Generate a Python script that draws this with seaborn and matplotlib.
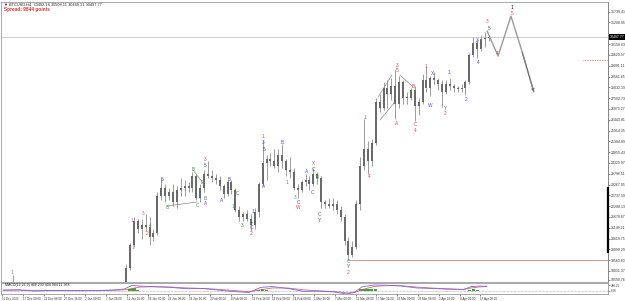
import matplotlib
matplotlib.use("Agg")
import matplotlib.pyplot as plt
import matplotlib.transforms as mtransforms
import numpy as np
import pandas as pd
import seaborn as sns

# ---------------- data ----------------
symbol_header = "\u25BC BTCUSD,H4  30492.16 30508.11 30469.31 30497.77"
spread_text = "Spread: 9844 points"
macd_header = "MACD(12,26,9) 468.230 404.984 11.368"
last_price = 30497.77

candle_dates = ["2022-12-14"] + [d.strftime("%Y-%m-%d") for d in pd.date_range("2023-01-12", "2023-04-15")]
opens = [17800,
    18300, 19200, 20300, 21500, 21100, 21300, 21200, 20700, 20900, 22700,
    23100, 22700, 22900, 22400, 23000, 23100, 23200, 23100, 23700, 22600,
    23100, 23800, 23700, 23600, 23500, 23200, 22800, 23400, 23000, 22000,
    21700, 21800, 21600, 21300, 21900, 23300, 24300, 24500, 24400, 24200,
    24700, 24400, 24000, 23900, 23100, 23000, 23400, 23500, 23300, 23800,
    23600, 22400, 22300, 22200, 22300, 22000, 21700, 20500, 19800, 20200,
    22300, 24200, 25000, 24400, 25300, 27300, 27000, 28000, 27700, 28100,
    27200, 28300, 27500, 27500, 27900, 27100, 27300, 28400, 28000, 28500,
    28400, 28200, 27800, 28200, 28100, 28000, 27950, 28000, 28300, 29600,
    30200, 29900, 30400, 30450]
highs = [18850,
    19350, 20400, 21700, 21600, 21600, 21800, 21700, 21100, 22900, 23600,
    23300, 23100, 23300, 23200, 23600, 23500, 23400, 23900, 23800, 23300,
    24000, 24400, 24000, 23800, 23700, 23300, 23500, 23500, 23100, 22200,
    21900, 22000, 21800, 22100, 23400, 25450, 24700, 24800, 25000, 25000,
    25250, 24500, 24600, 24100, 23300, 23500, 23800, 23700, 24100, 23900,
    23700, 22500, 22600, 22600, 22500, 22200, 21800, 20700, 20500, 22500,
    24600, 26500, 25400, 25500, 27500, 27700, 28300, 28400, 28500, 28900,
    28600, 28400, 27800, 28000, 28100, 27500, 28700, 29100, 28600, 28800,
    28500, 28400, 28400, 28500, 28200, 28100, 28200, 28400, 29700, 30500,
    30400, 30600, 30750, 30600]
lows = [17600,
    18200, 19100, 20200, 20900, 20600, 21000, 20300, 20500, 20800, 22500,
    22400, 22500, 22200, 22100, 22700, 22700, 22900, 22900, 22500, 22400,
    22900, 23600, 23400, 23300, 23000, 22600, 22700, 22800, 21900, 21500,
    21500, 21500, 21000, 21100, 21700, 23200, 23500, 24200, 24100, 23900,
    24100, 23700, 23600, 23000, 22600, 22900, 23200, 23000, 23200, 23300,
    22100, 22100, 22100, 22000, 21800, 21500, 20300, 19550, 19700, 20100,
    22000, 24000, 23800, 24200, 25200, 26800, 26900, 27000, 27400, 26500,
    27000, 27200, 27200, 27400, 26400, 26700, 27200, 27800, 27600, 28200,
    27900, 27050, 27700, 27900, 27800, 27800, 27800, 27650, 28200, 29500,
    29450, 29800, 30000, 30300]
closes = [17900,
    19200, 20300, 21500, 21100, 21300, 21200, 20700, 20900, 22700, 23100,
    22700, 22900, 22400, 23000, 23100, 23200, 23100, 23700, 22600, 23100,
    23800, 23700, 23600, 23500, 23200, 22800, 23400, 23000, 22000, 21700,
    21800, 21600, 21300, 21900, 23300, 24300, 24500, 24400, 24200, 24700,
    24400, 24000, 23900, 23100, 23000, 23400, 23500, 23300, 23800, 23600,
    22400, 22300, 22200, 22300, 22000, 21700, 20500, 19800, 20200, 22300,
    24200, 25000, 24400, 25300, 27300, 27000, 28000, 27700, 28100, 27200,
    28300, 27500, 27500, 27900, 27100, 27300, 28400, 28000, 28500, 28400,
    28200, 27800, 28200, 28100, 28000, 27950, 28000, 28300, 29600, 30200,
    29900, 30400, 30450, 30498]

# Elliott-wave style labels: (time, price, text, colour-name)
wave_labels = [
    ("2022-12-14 05:00", 18934, "1", "pink"),
    ("2023-01-14 00:00", 21482, "1", "pink"),
    ("2023-01-14 06:00", 20159, "1", "pink"),
    ("2023-01-16 19:00", 21825, "3", "pink"),
    ("2023-01-17 21:00", 20845, "2", "red"),
    ("2023-01-18 15:00", 21237, "4", "green"),
    ("2023-01-21 16:00", 23491, "5", "blue"),
    ("2023-01-23 00:00", 22119, "B", "green"),
    ("2023-01-29 15:00", 23981, "B", "green"),
    ("2023-01-31 23:00", 23344, "D", "green"),
    ("2023-01-30 16:00", 22217, "C", "green"),
    ("2023-02-01 17:00", 24471, "3", "red"),
    ("2023-02-01 17:00", 24177, "5", "blue"),
    ("2023-02-01 17:00", 22560, "B", "green"),
    ("2023-02-01 23:00", 22315, "A", "blue"),
    ("2023-02-06 02:00", 22462, "A", "blue"),
    ("2023-02-07 21:00", 23491, "B", "blue"),
    ("2023-02-08 21:00", 22168, "1", "green"),
    ("2023-02-09 22:00", 22805, "C", "green"),
    ("2023-02-11 05:00", 21237, "3", "green"),
    ("2023-02-13 12:00", 21384, "5", "green"),
    ("2023-02-13 12:00", 21139, "C", "blue"),
    ("2023-02-13 12:00", 20845, "2", "red"),
    ("2023-02-14 00:00", 21923, "1", "blue"),
    ("2023-02-16 14:00", 25598, "1", "red"),
    ("2023-02-16 14:00", 25304, "3", "blue"),
    ("2023-02-16 20:00", 24961, "5", "blue"),
    ("2023-02-16 20:00", 23148, "A", "blue"),
    ("2023-02-21 12:00", 25304, "B", "blue"),
    ("2023-02-22 19:00", 23344, "1", "green"),
    ("2023-02-24 19:00", 22609, "3", "green"),
    ("2023-02-25 14:00", 22364, "C", "blue"),
    ("2023-02-25 14:00", 22119, "W", "red"),
    ("2023-02-27 21:00", 23883, "A", "blue"),
    ("2023-03-01 10:00", 24275, "X", "red"),
    ("2023-03-01 10:00", 23981, "C", "blue"),
    ("2023-03-01 04:00", 22854, "C", "blue"),
    ("2023-03-02 12:00", 23589, "B", "green"),
    ("2023-03-03 00:00", 21776, "C", "green"),
    ("2023-03-03 00:00", 21482, "Y", "blue"),
    ("2023-03-10 09:00", 19473, "C", "green"),
    ("2023-03-10 09:00", 19228, "Y", "blue"),
    ("2023-03-10 09:00", 18934, "2", "red"),
    ("2023-03-14 19:00", 26529, "1", "red"),
    ("2023-03-15 19:00", 23638, "4", "red"),
    ("2023-03-22 23:00", 29077, "3", "red"),
    ("2023-03-22 23:00", 28832, "5", "red"),
    ("2023-03-22 23:00", 26235, "A", "red"),
    ("2023-03-27 02:00", 28048, "B", "red"),
    ("2023-03-27 14:00", 26186, "C", "red"),
    ("2023-03-27 14:00", 25892, "4", "red"),
    ("2023-03-30 10:00", 29028, "1", "red"),
    ("2023-04-01 04:00", 28685, "X", "blue"),
    ("2023-03-31 10:00", 27117, "W", "blue"),
    ("2023-04-05 07:00", 28734, "1", "blue"),
    ("2023-04-04 07:00", 26970, "Y", "blue"),
    ("2023-04-04 07:00", 26725, "2", "red"),
    ("2023-04-09 16:00", 27411, "2", "blue"),
    ("2023-04-12 11:00", 30302, "3", "blue"),
    ("2023-04-12 17:00", 29224, "4", "blue"),
    ("2023-04-15 12:00", 30890, "5", "blue"),
    ("2023-04-15 00:00", 31233, "3", "red"),
    ("2023-04-17 14:00", 29665, "4", "red"),
    ("2023-04-21 10:00", 31919, "1", "black"),
    ("2023-04-21 10:00", 31625, "5", "red"),
]

# thin trend / wedge lines: (t0, p0, t1, p1)
trend_lines = [
    ("2023-03-18 02:00", 27558, "2023-03-21 16:00", 28636),
    ("2023-03-18 14:00", 26431, "2023-03-22 10:00", 27313),
    ("2023-03-23 17:00", 28636, "2023-03-27 02:00", 28048),
    ("2023-01-23 00:00", 22217, "2023-01-30 16:00", 22413),
    ("2023-01-29 15:00", 23981, "2023-02-01 05:00", 23344),
]

# projected path
proj_times = ["2023-04-15 01:00", "2023-04-17 21:00", "2023-04-21 04:00",
              "2023-04-24 01:00", "2023-04-27 01:00"]
proj_prices = [30792, 29567, 31527, 29763, 27803]

low_line_start = "2023-03-10 12:00"
low_line_price = 19571
dotted_level = 29372
axis_marker = (19914, 23148)

# price-axis tick labels
y_ticks = [31738.41, 31208.95, 30150.03, 29620.57, 29091.11, 28561.65,
           28032.19, 27502.73, 26973.27, 26443.81, 25914.35, 25384.89,
           24855.43, 24325.97, 23796.51, 23267.05, 22737.59, 22208.13,
           21678.67, 21149.21, 20619.75, 20090.29, 19560.83, 19031.37,
           18590.76]

# time-axis tick labels
x_tick_times = ["2022-12-11 16:00", "2022-12-17 00:00", "2022-12-22 08:00",
    "2022-12-27 16:00", "2023-01-02 00:00", "2023-01-07 08:00",
    "2023-01-12 16:00", "2023-01-18 00:00", "2023-01-23 08:00",
    "2023-01-28 16:00", "2023-02-03 00:00", "2023-02-08 08:00",
    "2023-02-13 16:00", "2023-02-19 00:00", "2023-02-24 08:00",
    "2023-03-01 16:00", "2023-03-07 00:00", "2023-03-12 08:00",
    "2023-03-17 16:00", "2023-03-23 00:00", "2023-03-28 08:00",
    "2023-04-02 16:00", "2023-04-08 00:00", "2023-04-13 08:00"]

# indicator panel
macd_dates = ["2022-12-12", "2022-12-16", "2022-12-20", "2022-12-24", "2022-12-28",
    "2023-01-01", "2023-01-05", "2023-01-09", "2023-01-12", "2023-01-14",
    "2023-01-16", "2023-01-20", "2023-01-24", "2023-01-28", "2023-02-01",
    "2023-02-05", "2023-02-09", "2023-02-13", "2023-02-16", "2023-02-19",
    "2023-02-23", "2023-02-27", "2023-03-03", "2023-03-07", "2023-03-10",
    "2023-03-12", "2023-03-14", "2023-03-17", "2023-03-20", "2023-03-24",
    "2023-03-28", "2023-04-01", "2023-04-05", "2023-04-09", "2023-04-11",
    "2023-04-13", "2023-04-15"]
macd_main = [60, 80, -30, 20, 10, 0, 20, 60, 150, 480, 420, 350, 300, 180, 200,
    60, -80, -160, 300, 380, 200, -60, -40, -120, -300, -150, 350, 520, 500,
    430, 250, 200, 140, 100, 380, 420, 400]
macd_signal = [40, 50, 30, 25, 20, 15, 15, 30, 80, 200, 330, 370, 330, 250, 210,
    130, 20, -90, 80, 250, 240, 80, -20, -80, -200, -180, 100, 380, 460, 450,
    330, 240, 170, 120, 250, 340, 380]
hist_dates = ["2023-01-13", "2023-01-14", "2023-01-15", "2023-02-15", "2023-02-16",
    "2023-02-17", "2023-03-13", "2023-03-14", "2023-03-15", "2023-03-16",
    "2023-03-17", "2023-04-10", "2023-04-11", "2023-04-12"]
hist_vals = [120, 220, 90, 100, 180, 70, 120, 200, 140, 160, 110, 90, 140, 70]
ind_ticks = [0, 488.21]

# ---------------- style ----------------
sns.set_theme(style="white")
plt.rcParams['font.family'] = ['Liberation Sans', 'DejaVu Sans']

COL = {"red": "#e2463c", "blue": "#4a4ad6", "green": "#38a03a",
       "pink": "#d84ad0", "black": "#111111"}

REF = pd.Timestamp("2022-12-11 16:00")


def xd(t):
    t = pd.to_datetime(t)
    return (t - REF) / pd.Timedelta(days=1)


W, H = 625, 301
fig = plt.figure(figsize=(W / 100, H / 100), dpi=100)
fig.patch.set_facecolor("white")
ax = fig.add_axes([1 / W, 1 - 282 / H, 607 / W, 280 / H])
ax2 = fig.add_axes([1 / W, 1 - 294 / H, 607 / W, 11 / H], sharex=ax)

XMIN, XMAX = -1 / 3.9, 606 / 3.9
ax.set_xlim(XMIN, XMAX)
ax.set_ylim(18492, 32213)

# current price line
ax.axhline(last_price, color="#c4c4c4", lw=0.6, zorder=1)
# low line
ax.plot([xd(low_line_start), XMAX], [low_line_price, low_line_price],
        color="#e08080", lw=0.6, zorder=1)
ax.axhline(dotted_level, xmin=0.959, xmax=1.0, color="#e06060", lw=0.6,
           ls=(0, (1, 1)), zorder=1)

# candles
cx = np.array([xd(d) for d in candle_dates]) + 0.5
o = np.array(opens, float); c = np.array(closes, float)
hi = np.array(highs, float); lo = np.array(lows, float)
ax.vlines(cx, lo, hi, color="#8c8c8c", lw=0.6, zorder=2)
ax.bar(cx, np.maximum(np.abs(c - o), 40), bottom=np.minimum(o, c), width=0.5,
       color="#6a6a6a", edgecolor="none", zorder=3)

# trend lines
for t0, p0, t1, p1 in trend_lines:
    ax.plot([xd(t0), xd(t1)], [p0, p1], color="#8a8a8a", lw=0.5, zorder=2)

# projection path
px = [xd(t) for t in proj_times]
sns.lineplot(x=px, y=proj_prices, ax=ax, sort=False, color="#9a9a9a", lw=1.0,
             zorder=4, legend=False)
ax.annotate("", xy=(px[-1], proj_prices[-1]), xytext=(px[-2], proj_prices[-2]),
            arrowprops=dict(arrowstyle="-|>", color="#777777", lw=0.8,
                            mutation_scale=4, shrinkA=0, shrinkB=0), zorder=5)

# wave labels
for t, p, s, cn in wave_labels:
    ax.text(xd(t), p, s, color=COL[cn], fontsize=3.4, ha="center", va="center",
            zorder=6)

# axis marker on the price scale
ax.plot([XMAX, XMAX], list(axis_marker), color="black", lw=1.6, zorder=7,
        clip_on=False, solid_capstyle="butt")

# price axis
ax.yaxis.tick_right()
ax.set_yticks(y_ticks)
ax.set_yticklabels([f"{v:.2f}" for v in y_ticks])
ax.tick_params(axis="y", labelsize=2.5, colors="#333333", length=1.2, width=0.4,
               pad=0.6)
ax.tick_params(axis="x", bottom=False, labelbottom=False)
for sp in ax.spines.values():
    sp.set_color("#9a9a9a"); sp.set_linewidth(0.6)
ax.spines["right"].set_color("#707070")

# current price tag
trans = mtransforms.blended_transform_factory(ax.transAxes, ax.transData)
ax.text(1.003, last_price, f"{last_price:.2f}", transform=trans, fontsize=2.5,
        color="white", va="center", ha="left", zorder=10, clip_on=False,
        bbox=dict(boxstyle="square,pad=0.2", fc="black", ec="none"))

# header texts
fig.text(4 / W, 1 - 4.5 / H, symbol_header, fontsize=2.8, color="#222222",
         va="center", ha="left")
fig.text(4 / W, 1 - 10 / H, spread_text, fontsize=3.4, color="#e03030",
         fontweight="bold", va="center", ha="left")

# indicator panel
mx = [xd(d) for d in macd_dates]
ax2.axhline(0, color="#9a9a9a", lw=0.5, ls=(0, (1, 1)))
ax2.bar([xd(d) + 0.5 for d in hist_dates], hist_vals, width=0.8,
        color="#3aa23a", edgecolor="none")
sns.lineplot(x=mx, y=macd_signal, ax=ax2, color="#e06464", lw=0.6, legend=False)
sns.lineplot(x=mx, y=macd_main, ax=ax2, color="#7a66ee", lw=0.6, legend=False)
ax2.set_ylim(-300, 700)
ax2.yaxis.tick_right()
ax2.set_yticks(ind_ticks)
ax2.set_yticklabels([f"{v:.2f}" for v in ind_ticks])
ax2.tick_params(axis="y", labelsize=2.2, colors="#333333", length=1.2,
                width=0.4, pad=0.6)
for sp in ax2.spines.values():
    sp.set_color("#9a9a9a"); sp.set_linewidth(0.6)
ax2.text(4 / 607, 0.85, macd_header, transform=ax2.transAxes, fontsize=2.6,
         color="#222222", va="center", ha="left")

# time axis
xt = [xd(t) for t in x_tick_times]
xl = []
for i, t in enumerate(pd.to_datetime(x_tick_times)):
    if i == 0:
        xl.append(f"{t.day} {t.strftime('%b %Y')}")
    else:
        xl.append(f"{t.day} {t.strftime('%b %H:%M')}")
ax2.set_xticks(xt)
ax2.set_xticklabels(xl, ha="left")
ax2.tick_params(axis="x", labelsize=2.2, colors="#333333", length=1.2,
                width=0.4, pad=0.8, bottom=True)
ax2.set_xlim(XMIN, XMAX)

fig.savefig("out.png", dpi=100, facecolor="white")
